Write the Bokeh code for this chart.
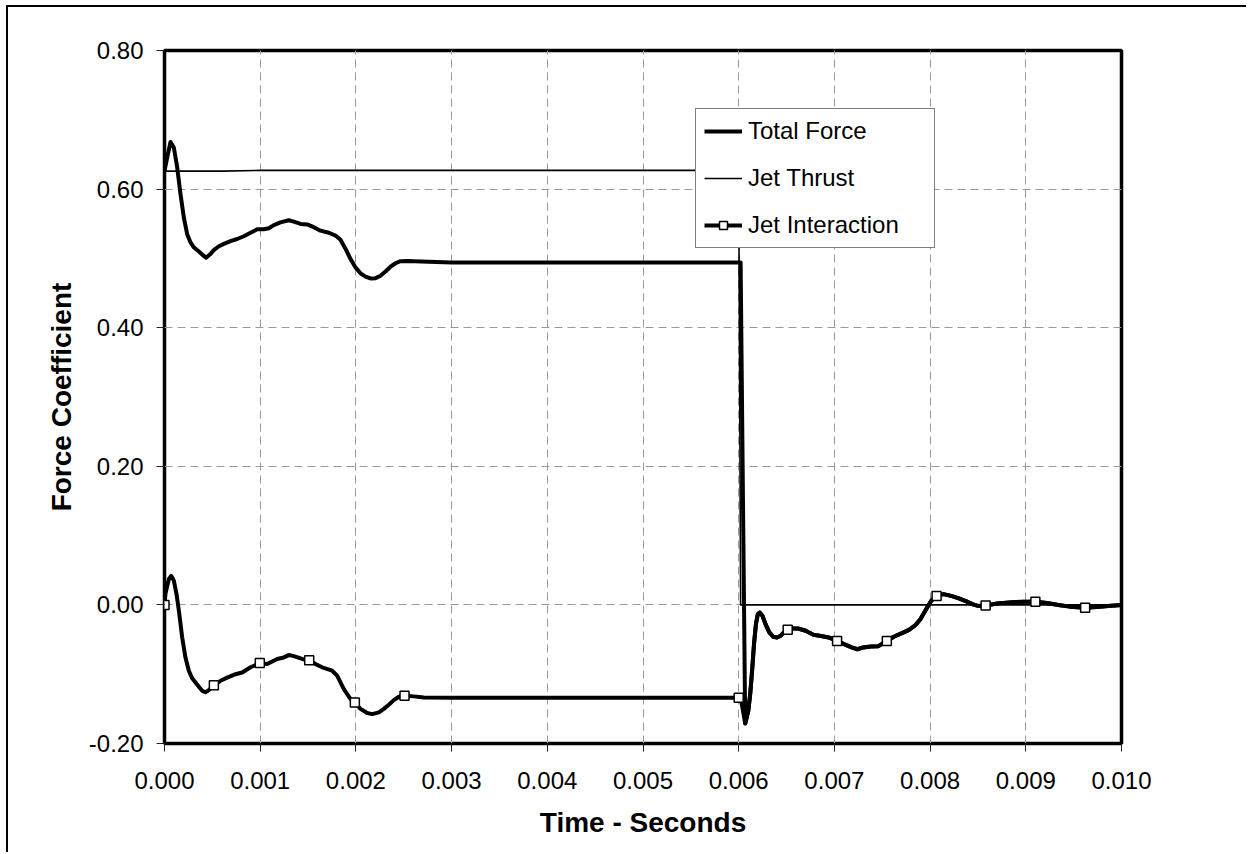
from bokeh.plotting import figure
from bokeh.models import Range1d, FixedTicker, NumeralTickFormatter, Legend, LegendItem
from bokeh.embed import file_html
from bokeh.resources import INLINE

# ---------------- data ----------------
# time in seconds
total_t = [0.0, 0.000035, 0.000063, 0.0000975, 0.000132, 0.000167, 0.000202, 0.000237, 0.000272,
           0.000306, 0.000359, 0.000394, 0.000435, 0.000474, 0.000515, 0.000568, 0.00062,
           0.00069, 0.000759, 0.000829, 0.000899, 0.000968, 0.001038, 0.00109, 0.001142,
           0.001212, 0.001299, 0.001351, 0.001421, 0.001491, 0.00156, 0.00163, 0.001717,
           0.001787, 0.001839, 0.001891, 0.001944, 0.001996, 0.002048, 0.0021, 0.002153,
           0.002205, 0.002257, 0.002309, 0.002362, 0.002414, 0.002466, 0.002536, 0.002605,
           0.0030, 0.0060, 0.00602,
           0.006068, 0.0061, 0.00612, 0.00614, 0.00616, 0.00618, 0.0062, 0.00622, 0.006248,
           0.00628, 0.00632, 0.00636, 0.0064, 0.00644, 0.00648, 0.006512, 0.00656, 0.00662,
           0.0067, 0.00678, 0.00686, 0.00694, 0.007028, 0.0071, 0.00718, 0.00724, 0.0073,
           0.00738, 0.00746, 0.007548, 0.00762, 0.0077, 0.00778, 0.00784, 0.0079, 0.00796,
           0.008012, 0.008068, 0.00814, 0.00822, 0.0083, 0.00838, 0.00844, 0.0085, 0.00858,
           0.0087, 0.00886, 0.00898, 0.0091, 0.00922, 0.00934, 0.00946, 0.00962, 0.00974,
           0.00986, 0.0100]
total_v = [0.626, 0.650, 0.668, 0.660, 0.632, 0.593, 0.559, 0.535, 0.523,
           0.516, 0.510, 0.5055, 0.501, 0.5055, 0.512, 0.5175, 0.521,
           0.525, 0.528, 0.532, 0.537, 0.542, 0.542, 0.5435, 0.548,
           0.552, 0.555, 0.553, 0.5497, 0.549, 0.545, 0.540, 0.537,
           0.533, 0.527, 0.514, 0.499, 0.487, 0.4785, 0.4737, 0.471,
           0.4715, 0.475, 0.481, 0.488, 0.493, 0.496, 0.4963, 0.496,
           0.494, 0.494, 0.494,
           -0.171, -0.153, -0.129, -0.095, -0.0565, -0.0277, -0.0133, -0.011, -0.0157,
           -0.0277, -0.0397, -0.046, -0.047, -0.0445, -0.0387, -0.036, -0.034, -0.034,
           -0.0373, -0.043, -0.045, -0.047, -0.052, -0.0565, -0.0614, -0.064, -0.0614,
           -0.060, -0.0595, -0.052, -0.046, -0.041, -0.036, -0.030, -0.0205, -0.006,
           0.006, 0.013, 0.0156, 0.013, 0.0093, 0.005, 0.0012, -0.0015, -0.001,
           0.002, 0.004, 0.0045, 0.0045, 0.0026, 0.0, -0.0025, -0.004, -0.003,
           -0.0015, 0.0]

thrust_t = [0.0, 0.0006, 0.0010, 0.0060, 0.00602, 0.0100]
thrust_v = [0.626, 0.626, 0.627, 0.627, 0.0, 0.0]

inter_t = [0.0, 0.000010, 0.000045, 0.00007, 0.0000975, 0.000125, 0.00015, 0.000185, 0.000219,
           0.000254, 0.000289, 0.000324, 0.000359, 0.000394, 0.000428, 0.000463, 0.000516,
           0.000585, 0.000655, 0.000742, 0.000812, 0.000899, 0.000996, 0.001073, 0.001125,
           0.001177, 0.001247, 0.001299, 0.001351, 0.001439, 0.001512, 0.001578, 0.001648,
           0.001752, 0.001804, 0.001874, 0.001944, 0.001989, 0.002048, 0.002118, 0.00217,
           0.00224, 0.002292, 0.002344, 0.002396, 0.002449, 0.002508, 0.002605, 0.00271,
           0.0030, 0.0060, 0.00602,
           0.006068, 0.0061, 0.00612, 0.00614, 0.00616, 0.00618, 0.0062, 0.00622, 0.006248,
           0.00628, 0.00632, 0.00636, 0.0064, 0.00644, 0.00648, 0.006512, 0.00656, 0.00662,
           0.0067, 0.00678, 0.00686, 0.00694, 0.007028, 0.0071, 0.00718, 0.00724, 0.0073,
           0.00738, 0.00746, 0.007548, 0.00762, 0.0077, 0.00778, 0.00784, 0.0079, 0.00796,
           0.008012, 0.008068, 0.00814, 0.00822, 0.0083, 0.00838, 0.00844, 0.0085, 0.00858,
           0.0087, 0.00886, 0.00898, 0.0091, 0.00922, 0.00934, 0.00946, 0.00962, 0.00974,
           0.00986, 0.0100]
inter_v = [0.0, 0.016, 0.037, 0.042, 0.035, 0.016, -0.008, -0.047, -0.076,
           -0.095, -0.106, -0.112, -0.118, -0.124, -0.126, -0.123, -0.116,
           -0.1095, -0.105, -0.100, -0.0975, -0.090, -0.084, -0.0854, -0.0816,
           -0.078, -0.0758, -0.0724, -0.0739, -0.078, -0.080, -0.0854, -0.090,
           -0.095, -0.102, -0.1215, -0.136, -0.1408, -0.150, -0.156, -0.1576,
           -0.155, -0.150, -0.144, -0.1374, -0.1326, -0.131, -0.132, -0.1335,
           -0.134, -0.134, -0.134,
           -0.171, -0.153, -0.129, -0.095, -0.0565, -0.0277, -0.0133, -0.011, -0.0157,
           -0.0277, -0.0397, -0.046, -0.047, -0.0445, -0.0387, -0.036, -0.034, -0.034,
           -0.0373, -0.043, -0.045, -0.047, -0.052, -0.0565, -0.0614, -0.064, -0.0614,
           -0.060, -0.0595, -0.052, -0.046, -0.041, -0.036, -0.030, -0.0205, -0.006,
           0.006, 0.013, 0.0156, 0.013, 0.0093, 0.005, 0.0012, -0.0015, -0.001,
           0.002, 0.004, 0.0045, 0.0045, 0.0026, 0.0, -0.0025, -0.004, -0.003,
           -0.0015, 0.0]

marker_t = [0.0, 0.000516, 0.000996, 0.001512, 0.001989, 0.002508, 0.0060, 0.006512, 0.007028,
            0.007548, 0.008068, 0.00858, 0.0091, 0.00962]
marker_v = [0.0, -0.116, -0.084, -0.080, -0.1408, -0.131, -0.134, -0.036, -0.052,
            -0.052, 0.013, -0.001, 0.0045, -0.004]

x_ticks = [0.000, 0.001, 0.002, 0.003, 0.004, 0.005, 0.006, 0.007, 0.008, 0.009, 0.010]
y_ticks = [-0.2, 0.0, 0.2, 0.4, 0.6, 0.8]

FONT = "Liberation Sans"

# canvas starts at (8, 7) on the page (margin + border)
CX, CY = 8, 7
W, H = 1240, 847
FL, FR, FT, FB = 164, 1121, 50, 743

p = figure(width=W, height=H, x_range=Range1d(0, 0.010), y_range=Range1d(-0.2, 0.8),
           output_backend="svg", toolbar_location=None,
           min_border_left=FL - CX, min_border_right=(CX + W) - FR,
           min_border_top=FT - CY, min_border_bottom=(CY + H) - FB)
p.margin = (5, 0, 0, 6)
p.styles = {"border-top": "2px solid #000", "border-left": "2px solid #000"}

p.background_fill_color = "white"
p.border_fill_color = "white"
p.outline_line_color = "black"
p.outline_line_width = 3.5

for ax in (p.xaxis[0], p.yaxis[0]):
    ax.axis_line_color = None
    ax.major_tick_line_color = "#222222"
    ax.major_tick_line_width = 1
    ax.major_tick_out = 8
    ax.major_tick_in = 0
    ax.minor_tick_line_color = None
    ax.major_label_text_font = FONT
    ax.major_label_text_font_size = "24px"
    ax.major_label_text_color = "black"
    ax.axis_label_text_font = FONT
    ax.axis_label_text_font_size = "28px"
    ax.axis_label_text_font_style = "bold"
    ax.axis_label_text_color = "black"

p.xaxis.ticker = FixedTicker(ticks=x_ticks)
p.yaxis.ticker = FixedTicker(ticks=y_ticks)
p.xaxis.formatter = NumeralTickFormatter(format="0.000")
p.yaxis.formatter = NumeralTickFormatter(format="0.00")
p.xaxis.major_label_standoff = 20
p.yaxis.major_label_standoff = 13
p.xaxis.axis_label = "Time - Seconds"
p.yaxis.axis_label = "Force Coefficient"
p.xaxis.axis_label_standoff = 15
p.yaxis.axis_label_standoff = 9

for g in (p.xgrid[0], p.ygrid[0]):
    g.grid_line_color = "#999999"
    g.grid_line_width = 1
    g.grid_line_dash = "8 5"

r_total = p.line(total_t, total_v, line_color="black", line_width=4, line_join="round")
r_thrust = p.line(thrust_t, thrust_v, line_color="black", line_width=1.6)
r_inter = p.line(inter_t, inter_v, line_color="black", line_width=4, line_join="round")
r_mark = p.scatter(marker_t, marker_v, marker="square", size=9, line_color="black",
                   line_width=1.5, fill_color="white")

legend = Legend(items=[LegendItem(label="Total Force", renderers=[r_total]),
                       LegendItem(label="Jet Thrust", renderers=[r_thrust]),
                       LegendItem(label="Jet Interaction", renderers=[r_inter, r_mark])],
                location=(695 - FL, FB - 248))
legend.label_text_font = FONT
legend.label_text_font_size = "24px"
legend.label_text_color = "black"
legend.glyph_width = 38
legend.glyph_height = 20
legend.label_standoff = 6
legend.label_width = 178
legend.spacing = 19
legend.padding = 8
legend.margin = 0
legend.border_line_color = "black"
legend.border_line_width = 1
legend.background_fill_color = "white"
legend.background_fill_alpha = 1
p.add_layout(legend, "center")

open("out.html", "w").write(file_html(p, INLINE))
